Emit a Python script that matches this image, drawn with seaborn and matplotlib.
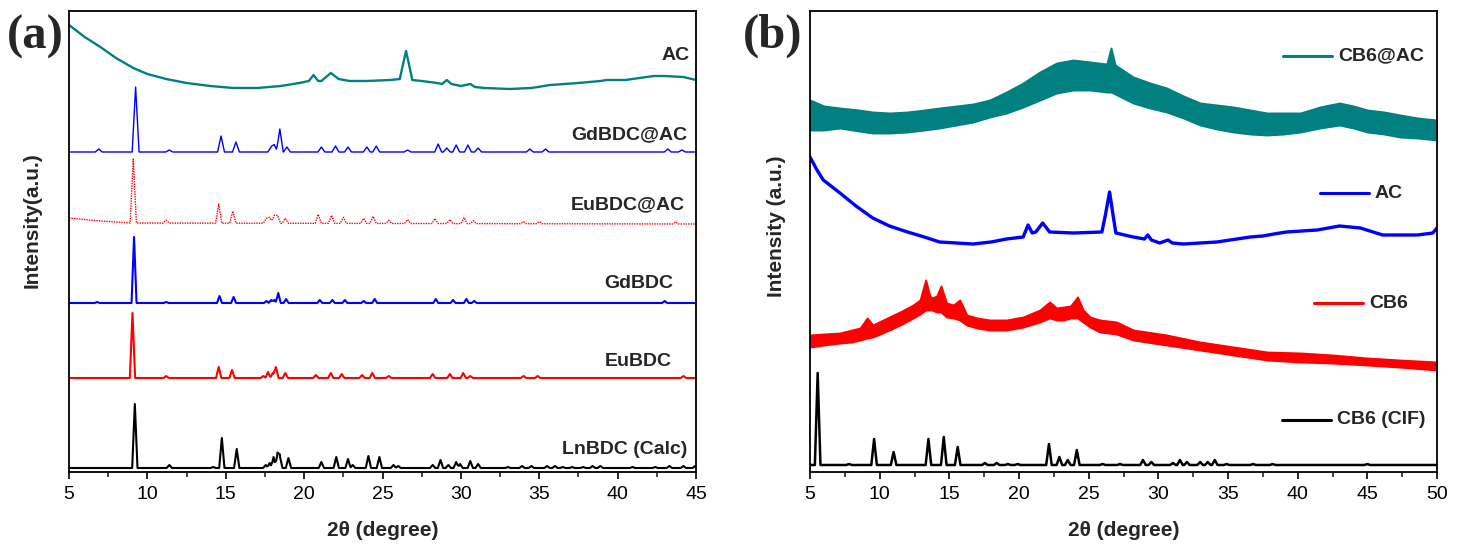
import numpy as np
import seaborn as sns
import matplotlib.pyplot as plt
from matplotlib.ticker import MultipleLocator

# ---------------- panel (a) : heights are offsets above the x axis ----------------
AC_A_X = [5.0, 5.5, 6.0, 7.0, 8.0, 9.1, 10.0, 11.2, 12.5, 14.0, 15.5, 17.0, 18.5, 19.7,
          20.3, 20.6, 20.9, 21.1, 21.7, 22.2, 22.9, 24.0, 25.5, 26.1, 26.3, 26.5, 26.7,
          26.9, 27.5, 28.5, 28.8, 29.1, 29.4, 30.0, 30.6, 30.9, 31.5, 33.1, 34.5, 35.7,
          37.5, 38.9, 39.3, 40.5, 42.3, 43.0, 44.2, 45.0]
AC_A_Y = [447, 441, 435, 425, 414, 404, 398, 393, 389, 386, 384, 384, 386, 389,
          391, 397, 391, 391, 399, 393, 391, 391, 392, 393, 407, 421, 407,
          392, 391, 389, 388, 392, 388, 386, 388, 385, 384, 383, 384, 387,
          389, 391, 392, 392, 396, 396, 395, 392]

GDAC_BASE = 320
GDAC_POS = [6.9, 9.25, 11.4, 14.7, 15.65, 17.9, 18.1, 18.45, 18.9, 21.1, 22.0, 22.8,
            24.0, 24.6, 26.6, 28.55, 29.1, 29.7, 30.45, 31.1, 34.4, 35.4, 43.2, 44.1]
GDAC_H = [3, 65, 2, 16, 10, 5, 7, 23, 5, 5, 6, 5, 5, 6, 2, 8, 4, 7, 7, 4, 3, 3, 3, 2]

EUAC_BASE_X = [5.0, 7.0, 9.0, 45.0]
EUAC_BASE_Y = [254, 251, 249, 248]
EUAC_POS = [9.1, 11.2, 14.55, 15.45, 17.6, 17.8, 18.1, 18.3, 18.8, 20.9, 21.75, 22.5,
            23.8, 24.4, 25.4, 26.6, 28.35, 29.3, 30.2, 30.8, 34.0, 35.0, 43.7]
EUAC_H = [64, 3, 19, 12, 5, 6, 8, 8, 5, 9, 8, 6, 5, 7, 3, 4, 5, 4, 6, 3, 2, 2, 2]

GD_BASE = 169
GD_POS = [6.8, 9.15, 11.2, 14.6, 15.5, 17.6, 17.9, 18.1, 18.35, 18.85, 21.0, 21.8,
          22.6, 23.8, 24.5, 28.4, 29.5, 30.35, 30.85, 43.0]
GD_H = [1, 66, 1, 7, 6, 2, 3, 3, 10, 4, 3, 3, 3, 2, 4, 4, 3, 4, 2, 2]

EU_BASE = 94
EU_POS = [9.05, 11.2, 14.55, 15.4, 17.4, 17.7, 18.0, 18.2, 18.8, 20.75, 21.7, 22.4,
          23.7, 24.35, 25.4, 28.2, 29.3, 30.15, 30.6, 34.0, 34.9, 44.2]
EU_H = [65, 2, 11, 8, 2, 6, 5, 11, 5, 3, 5, 4, 3, 5, 2, 4, 4, 5, 2, 2, 2, 2]

CALC_BASE = 4
CALC_POS = [9.2, 11.4, 14.2, 14.75, 15.7, 17.55, 17.8, 18.05, 18.3, 18.45, 19.0, 21.1,
            22.05, 22.8, 23.1, 24.1, 24.8, 25.7, 26.0, 28.2, 28.7, 29.2, 29.7, 29.95,
            30.6, 31.1, 33.0, 33.9, 34.5, 35.5, 36.0, 36.5, 37.1, 37.8, 38.4, 38.9,
            40.95, 42.4, 43.3, 44.2, 44.95]
CALC_H = [64, 3, 1, 30, 19, 3, 5, 11, 14, 12, 10, 6, 11, 9, 3, 12, 11, 3, 2, 3, 8, 3,
          6, 4, 7, 4, 1, 2, 2, 2, 2, 1, 1, 1, 2, 2, 1, 1, 2, 2, 2]

LABELS_A = ["AC", "GdBDC@AC", "EuBDC@AC", "GdBDC", "EuBDC", "LnBDC (Calc)"]
LABEL_A_X = [44.62, 44.43, 44.3, 43.53, 43.47, 44.43]
LABEL_A_Y = [416, 337, 267, 188, 110, 22]

# ---------------- panel (b) ----------------
AC_B_X = [5.0, 5.5, 5.95, 7.15, 8.3, 9.5, 10.7, 12.0, 13.2, 14.3, 15.5, 16.7, 18.0,
          19.1, 20.3, 20.65, 20.95, 21.2, 21.7, 22.2, 23.9, 25.95, 26.2, 26.5, 26.75,
          26.95, 28.2, 29.0, 29.25, 29.5, 30.1, 30.7, 31.0, 31.8, 34.2, 36.6, 37.5,
          38.3, 39.2, 41.4, 43.0, 44.5, 46.1, 48.6, 49.7, 50.0]
AC_B_Y = [315, 302, 292, 279, 266, 254, 246, 240, 235, 230, 229, 228, 230,
          233, 235, 247, 239, 240, 249, 240, 239, 240, 257, 280, 257,
          239, 235, 233, 237, 232, 229, 232, 229, 228, 230, 235, 236,
          238, 240, 242, 246, 244, 237, 237, 239, 244]

CB6AC_X = [5.0, 6.0, 7.15, 8.5, 9.5, 10.7, 12.0, 13.2, 14.3, 15.5, 16.7, 17.9, 19.1,
           20.3, 21.5, 22.7, 23.9, 25.1, 26.3, 26.6, 26.9, 28.2, 29.4, 30.6, 31.8,
           33.0, 34.2, 35.4, 36.6, 37.8, 39.0, 40.2, 41.6, 43.0, 44.0, 45.0, 46.2,
           47.35, 48.6, 50.0]
CB6AC_HI = [372, 366, 364, 362, 360, 359, 360, 362, 364, 366, 368, 372, 380,
            389, 400, 409, 412, 410, 408, 424, 407, 395, 389, 384, 376,
            369, 367, 365, 362, 359, 359, 359, 365, 369, 366, 362, 360,
            357, 354, 352]
CB6AC_LO = [342, 342, 344, 341, 339, 339, 340, 342, 344, 347, 350, 355, 359,
            365, 372, 379, 382, 382, 380, 380, 378, 369, 364, 360, 354,
            347, 343, 340, 338, 337, 338, 340, 344, 347, 344, 340, 338,
            335, 334, 332]

CB6_X = [5.0, 6.0, 7.15, 8.0, 8.6, 9.1, 9.5, 10.7, 11.6, 12.4, 12.9, 13.3, 13.6, 13.75,
         14.1, 14.4, 14.8, 15.3, 15.75, 16.25, 17.0, 17.9, 19.1, 20.3, 21.5, 22.2,
         22.7, 23.2, 23.7, 24.2, 24.6, 25.1, 25.8, 27.0, 28.2, 30.6, 33.0, 35.4,
         37.8, 40.2, 42.5, 45.0, 47.3, 50.0]
CB6_HI = [137, 138, 139, 142, 144, 154, 147, 155, 161, 167, 172, 192, 176, 174,
          176, 186, 169, 167, 172, 157, 154, 152, 152, 155, 162, 170,
          164, 165, 166, 175, 162, 155, 152, 150, 142, 137, 130, 125,
          120, 119, 117, 114, 112, 110]
CB6_LO = [125, 127, 129, 130, 132, 134, 135, 142, 148, 154, 158, 162, 162, 162,
          160, 160, 155, 154, 152, 147, 144, 142, 142, 145, 150, 154,
          152, 152, 154, 154, 150, 145, 140, 138, 132, 127, 122, 117,
          112, 110, 109, 107, 105, 102]

CIF_BASE = 7
CIF_POS = [5.55, 7.8, 9.6, 11.0, 13.5, 14.6, 15.6, 17.55, 18.4, 19.2, 19.9, 22.15,
           22.9, 23.5, 24.15, 26.0, 27.25, 28.9, 29.5, 31.05, 31.55, 32.05, 33.0,
           33.55, 34.05, 34.9, 36.8, 38.2, 45.0]
CIF_H = [92, 1, 26, 13, 26, 28, 18, 2, 2, 1, 1, 21, 8, 5, 15, 1, 1, 5, 3, 2, 5, 3, 3,
         3, 5, 1, 1, 1, 1]

LABELS_B = ["CB6@AC", "AC", "CB6", "CB6 (CIF)"]
COLORS_B = ["#008080", "#0000ff", "#ff0000", "black"]
# legend key positions in pixels of the 1466x545 canvas: line start, line end, y
KEY_X0 = [1283, 1320, 1314, 1282]
KEY_X1 = [1332, 1369, 1363, 1331]
KEY_Y = [56, 193, 303, 420]

TEAL = "#008080"


def peak_trace(lo, hi, base_x, base_y, pos, heights, hw):
    """Piecewise-linear pattern: baseline plus triangular peaks."""
    pos = np.asarray(pos, dtype=float)
    xs = np.unique(np.concatenate([[lo, hi], base_x, pos - hw, pos, pos + hw]))
    xs = xs[(xs >= lo) & (xs <= hi)]
    ys = np.interp(xs, base_x, base_y).astype(float)
    for p, h in zip(pos, heights):
        ys += h * np.clip(1 - np.abs(xs - p) / hw, 0, None)
    return xs, ys


def style_axis(ax, xmax):
    ax.set_xlim(5, xmax)
    ax.set_ylim(0, 461)
    ax.set_yticks([])
    ax.xaxis.set_major_locator(MultipleLocator(5))
    ax.xaxis.set_minor_locator(MultipleLocator(2.5))
    ax.tick_params(axis="x", which="major", direction="out", length=5, width=1.2,
                   labelsize=14, pad=5, colors="black")
    ax.tick_params(axis="x", which="minor", direction="out", length=3.5, width=1.2)
    for s in ax.spines.values():
        s.set_visible(True)
        s.set_linewidth(1.3)
        s.set_color("black")
    ax.set_xlabel("")
    ax.set_ylabel("")


sns.set_style("ticks")
plt.rcParams["font.family"] = ["Liberation Sans", "DejaVu Sans"]

W, H = 1466, 545
fig = plt.figure(figsize=(14.66, 5.45), dpi=100)
ax1 = fig.add_axes([69 / W, 73 / H, 627 / W, 461 / H])
ax2 = fig.add_axes([810 / W, 73 / H, 627 / W, 461 / H])

# ---- panel (a)
sns.lineplot(x=AC_A_X, y=AC_A_Y, ax=ax1, color=TEAL, lw=1.7, estimator=None, sort=False)
traces_a = [
    (peak_trace(5, 45, [5, 45], [GDAC_BASE] * 2, GDAC_POS, GDAC_H, 0.22), "#0000ff", "-", 1.0),
    (peak_trace(5, 45, EUAC_BASE_X, EUAC_BASE_Y, EUAC_POS, EUAC_H, 0.2), "#ff0000", (0, (1, 0.8)), 1.0),
    (peak_trace(5, 45, [5, 45], [GD_BASE] * 2, GD_POS, GD_H, 0.16), "#0000ff", "-", 1.5),
    (peak_trace(5, 45, [5, 45], [EU_BASE] * 2, EU_POS, EU_H, 0.17), "#ff0000", "-", 1.5),
    (peak_trace(5, 45, [5, 45], [CALC_BASE] * 2, CALC_POS, CALC_H, 0.17), "black", "-", 1.5),
]
for (xs, ys), col, ls, lw in traces_a:
    sns.lineplot(x=xs, y=ys, ax=ax1, color=col, lw=lw, linestyle=ls,
                 estimator=None, sort=False)
for lab, lx, ly in zip(LABELS_A, LABEL_A_X, LABEL_A_Y):
    ax1.text(lx, ly, lab, ha="right", va="center", fontsize=14, fontweight="bold")
style_axis(ax1, 45)

# ---- panel (b)
ax2.fill_between(CB6AC_X, CB6AC_LO, CB6AC_HI, color=TEAL, lw=1.4, edgecolor=TEAL)
sns.lineplot(x=AC_B_X, y=AC_B_Y, ax=ax2, color="#0000ff", lw=2.4, estimator=None, sort=False)
ax2.fill_between(CB6_X, CB6_LO, CB6_HI, color="#ff0000", lw=1.4, edgecolor="#ff0000")
xs, ys = peak_trace(5, 50, [5, 50], [CIF_BASE] * 2, CIF_POS, CIF_H, 0.2)
sns.lineplot(x=xs, y=ys, ax=ax2, color="black", lw=1.8, estimator=None, sort=False)
style_axis(ax2, 50)
for lab, col, x0, x1, ky in zip(LABELS_B, COLORS_B, KEY_X0, KEY_X1, KEY_Y):
    fx0, fx1 = (x0 - 810) / 627, (x1 - 810) / 627
    fy = (472 - ky) / 461
    ax2.plot([fx0, fx1], [fy, fy], transform=ax2.transAxes, color=col, lw=2.2)
    ax2.text(fx1 + 6 / 627, fy, lab, transform=ax2.transAxes, ha="left", va="center",
             fontsize=14, fontweight="bold")

# ---- axis titles and panel letters
for cx in [382.5, 1123.5]:
    fig.text(cx / W, 1 - 530 / H, "2\u03b8 (degree)", ha="center", va="center",
             fontsize=15, fontweight="bold")
for lx, ylab, ly in [(32.5, "Intensity(a.u.)", 220), (776, "Intensity (a.u.)", 226)]:
    fig.text(lx / W, 1 - ly / H, ylab, rotation=90, ha="center", va="center",
             fontsize=15, fontweight="bold")
for lx, ly, letter in [(35, 37, "(a)"), (773, 36, "(b)")]:
    fig.text(lx / W, 1 - ly / H, letter, ha="center", va="center", fontsize=35,
             fontweight="bold", family=["Liberation Serif", "DejaVu Serif"])

fig.savefig("out.png", dpi=100)
